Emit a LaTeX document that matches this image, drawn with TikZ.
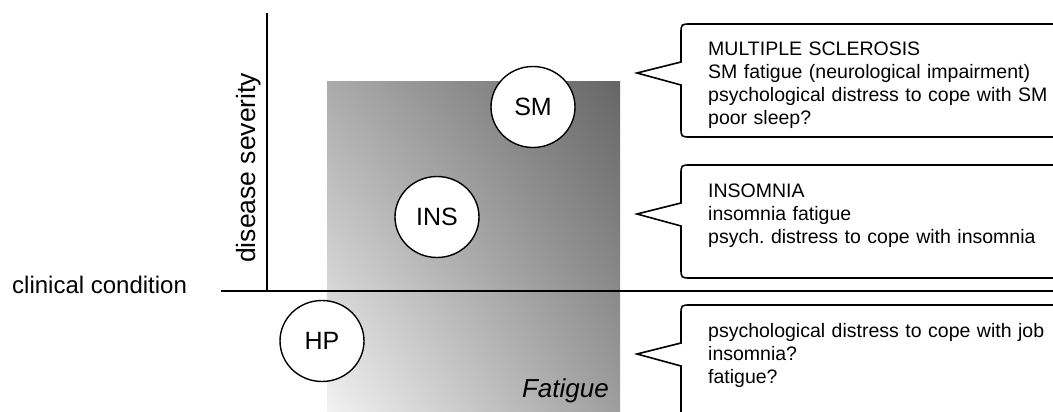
\documentclass[tikz,border=0pt]{standalone}
\usepackage{fontspec}
\setmainfont{Liberation Sans}
\usetikzlibrary{shapes.geometric,shadings}
\tikzset{
  axisline/.style={line width=1.7pt, black},
  callline/.style={line width=1.6pt, black},
  bubble/.style={ellipse, draw=black, line width=1.4pt, fill=white, minimum width=84pt, minimum height=81pt, inner sep=0pt, font=\fontsize{25}{30}\selectfont},
  boxtext/.style={anchor=base west, align=left, text width=420pt, inner sep=0pt, font=\fontsize{19.5}{23}\selectfont\frenchspacing},
  labeltext/.style={inner sep=0pt}
}
\newcommand\callbox[2]{%
  \draw[callline] (1070,#1) -- (691,#1) .. controls (681,#1) .. (681,{#1+10})
    -- (681,{#1+38}) -- (637,{#1+49}) -- (681,{#1+61})
    -- (681,{#2-10}) .. controls (681,#2) .. (691,#2) -- (1070,#2);}
\begin{document}
\begin{tikzpicture}[x=1pt,y=-1pt]
\useasboundingbox (0,0) rectangle (1053,412);
\clip (0,0) rectangle (1053,412);
% gradient field
\shade[upper left=black!33, upper right=black!60, lower left=black!5, lower right=black!38] (327,82) rectangle (620,414);
% axes
\coordinate (ytop) at (267,13);
\coordinate (origin) at (267,291);
\coordinate (xleft) at (221,291);
\coordinate (xright) at (1053,291);
\draw[axisline] (ytop) -- (origin);
\draw[axisline] (xleft) -- (xright);
% axis labels
\node[labeltext, anchor=base west, font=\fontsize{24}{28}\selectfont] (cc) at (12,293) {clinical condition};
\node[labeltext, rotate=90, anchor=base west, font=\fontsize{26.5}{30}\selectfont] (ds) at (255,263) {disease severity};
\node[labeltext, anchor=base east, font=\itshape\fontsize{26}{30}\selectfont] (fat) at (609,397) {Fatigue};
% bubbles
\node[bubble] (sm) at (533,107) {SM};
\node[bubble] (ins) at (437,217) {INS};
\node[bubble] (hp) at (322,341) {HP};
% callouts
\callbox{24}{137}
\callbox{165}{278}
\callbox{305}{440}
\node[boxtext] (t1) at (708,56) {MULTIPLE SCLEROSIS\\SM fatigue (neurological impairment)\\psychological distress to cope with SM\\poor sleep?};
\node[boxtext] (t2) at (708,197) {INSOMNIA\\insomnia fatigue\\psych. distress to cope with insomnia};
\node[boxtext] (t3) at (708,337) {psychological distress to cope with job\\insomnia?\\fatigue?};
\end{tikzpicture}
\end{document}
